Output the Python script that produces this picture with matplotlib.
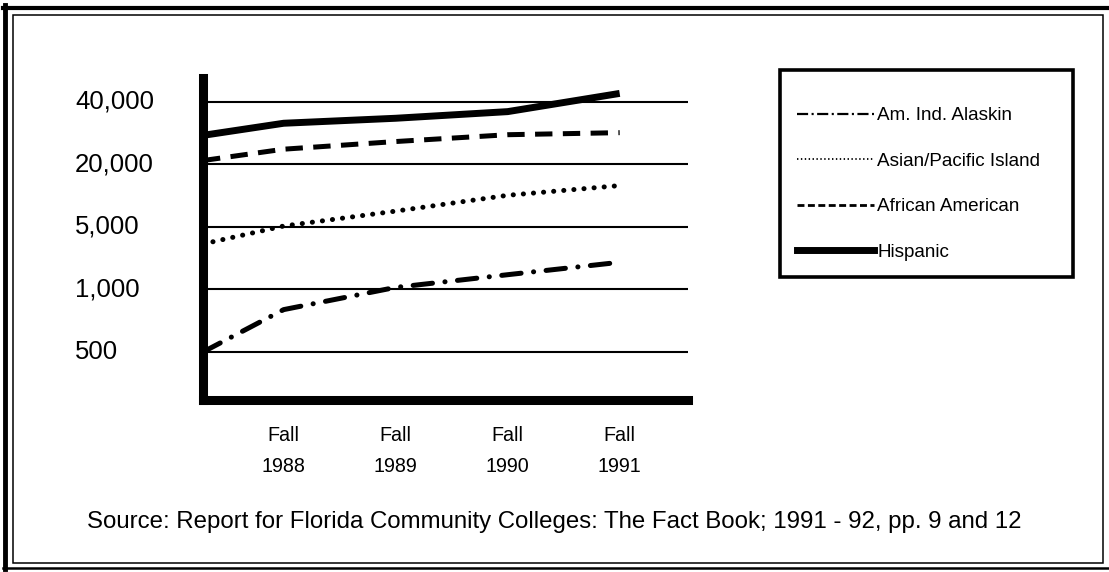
import numpy as np
import matplotlib
matplotlib.use("Agg")
import matplotlib.pyplot as plt
from matplotlib.lines import Line2D
from matplotlib.patches import Rectangle

plt.rcParams['font.family'] = ['Liberation Sans', 'DejaVu Sans']
plt.rcParams['lines.scale_dashes'] = False

# ---- data ----
categories = ["Fall\n1988", "Fall\n1989", "Fall\n1990", "Fall\n1991"]
x_pos = [-0.72, 0, 1, 2, 3]          # first point = start of series at the y-axis
series_names = ["Am. Ind. Alaskin", "Asian/Pacific Island", "African American", "Hispanic"]
alaskin = [500, 800, 1056, 1464, 2016]
asian = [3230, 5110, 7110, 10100, 12530]
african = [20900, 23700, 25800, 27830, 28470]
hispanic = [27630, 31600, 33400, 35950, 44000]
ytick_values = [500, 1000, 5000, 20000, 40000]
ytick_labels = ["500", "1,000", "5,000", "20,000", "40,000"]
source = "Source: Report for Florida Community Colleges: The Fact Book; 1991 - 92, pp. 9 and 12"

# ---- scale: tick values evenly spaced, log-interpolated between them ----
lk = np.log10(np.array(ytick_values, dtype=float))
idx = np.arange(len(lk), dtype=float)

def fwd(v):
    v = np.asarray(v, dtype=float)
    lv = np.log10(np.clip(v, 1e-9, None))
    out = np.interp(lv, lk, idx)
    lo = lv < lk[0]
    hi = lv > lk[-1]
    out = np.where(lo, (lv - lk[0]) / (lk[1] - lk[0]), out)
    out = np.where(hi, idx[-1] + (lv - lk[-1]) / (lk[-1] - lk[-2]), out)
    return out

def inv(u):
    u = np.asarray(u, dtype=float)
    lv = np.interp(u, idx, lk)
    lv = np.where(u < 0, lk[0] + u * (lk[1] - lk[0]), lv)
    lv = np.where(u > idx[-1], lk[-1] + (u - idx[-1]) * (lk[-1] - lk[-2]), lv)
    return 10 ** lv

W, H = 1109, 572
fig = plt.figure(figsize=(W / 100, H / 100), dpi=100)

def fx(x):
    return x / W

def fy(y):
    return 1 - y / H

ax = fig.add_axes([fx(203), fy(400), fx(688) - fx(203), fy(78) - fy(400)])
ax.set_yscale('function', functions=(fwd, inv))
ax.set_xlim(-0.72, 3.61)
ax.set_ylim(float(inv(-0.768)), float(inv(4.384)))

ax.plot(x_pos, hispanic, color='black', lw=5, solid_capstyle='butt', solid_joinstyle='round', zorder=3)
ax.plot(x_pos, african, color='black', lw=3.6, dashes=(12.5, 7.5), dash_capstyle='butt', zorder=3)
ax.plot(x_pos, asian, color='black', lw=3.6, dashes=(0.1, 7.2), dash_capstyle='round', zorder=3)
ax.plot(x_pos, alaskin, color='black', lw=3.6, dashes=(14, 9, 0.1, 9), dash_capstyle='round', zorder=3)

for s in ['top', 'right']:
    ax.spines[s].set_visible(False)
for s in ['left', 'bottom']:
    ax.spines[s].set_linewidth(6.5)
    ax.spines[s].set_color('black')
ax.spines['bottom'].set_capstyle('projecting')

ax.set_yticks(ytick_values)
ax.set_yticklabels(ytick_labels, fontsize=18.5)
ax.yaxis.set_minor_locator(matplotlib.ticker.NullLocator())
for lbl in ax.get_yticklabels():
    lbl.set_horizontalalignment('left')
    lbl.set_verticalalignment('center')
ax.tick_params(axis='y', length=0, pad=92)
ax.grid(axis='y', color='black', lw=1.5)
ax.set_axisbelow(True)

ax.set_xticks(range(len(categories)))
ax.set_xticklabels(categories, fontsize=14.2, linespacing=1.75)
ax.tick_params(axis='x', length=0, pad=19)

# legend
handles = [
    Line2D([], [], color='black', lw=1.6, dashes=(8, 2.5, 1.5, 2.5)),
    Line2D([], [], color='black', lw=1.3, dashes=(1, 1.8)),
    Line2D([], [], color='black', lw=2, dashes=(5, 2.5)),
    Line2D([], [], color='black', lw=5),
]
fig.legend(handles, series_names, loc='upper left',
           bbox_to_anchor=(fx(797), fy(107)), frameon=False, borderpad=0,
           borderaxespad=0, handlelength=4.1, handletextpad=0.15,
           labelspacing=1.5, fontsize=13.6)
fig.patches.append(Rectangle((fx(780), fy(277)), fx(1073) - fx(780), fy(70) - fy(277),
                             transform=fig.transFigure, fill=False, lw=2.6, edgecolor='black'))

# source
fig.text(0.5, fy(522), source, ha='center', va='center', fontsize=17.3)

# outer frames
fig.add_artist(Line2D([fx(5), fx(5)], [fy(5), fy(569)], transform=fig.transFigure, color='black', lw=3.5))
fig.add_artist(Line2D([fx(3), fx(1109)], [fy(7.5), fy(7.5)], transform=fig.transFigure, color='black', lw=3))
fig.add_artist(Line2D([fx(3), fx(1109)], [fy(567.5), fy(567.5)], transform=fig.transFigure, color='black', lw=1.8))
fig.patches.append(Rectangle((fx(13), fy(563)), fx(1103) - fx(13), fy(15) - fy(563),
                             transform=fig.transFigure, fill=False, lw=1.1, edgecolor='black'))

fig.savefig('out.png', dpi=100)
